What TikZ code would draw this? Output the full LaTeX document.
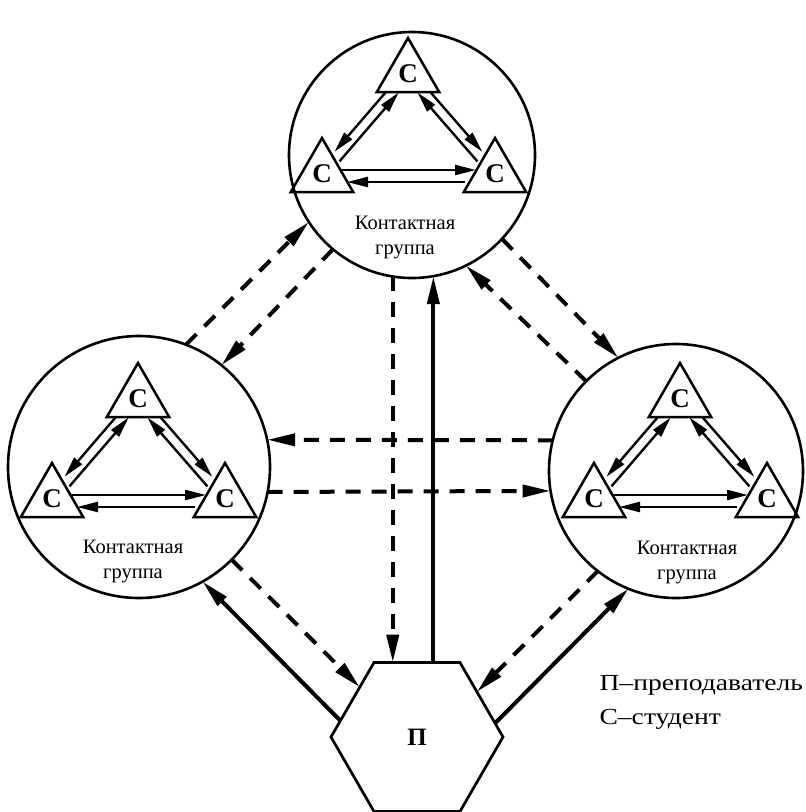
\documentclass[tikz,border=0pt]{standalone}
\usepackage{fontspec}
\setmainfont{Liberation Serif}
\newfontfamily\legfont[FakeStretch=1.2]{Liberation Serif}
\usetikzlibrary{arrows.meta,calc,shapes.geometric}
\begin{document}
\begin{tikzpicture}[x=1pt,y=-1pt,
 grp/.style={circle, draw, line width=2.6pt, minimum size=#1, inner sep=0pt, outer sep=0pt},
 stud/.style={regular polygon, regular polygon sides=3, draw, line width=2.5pt, minimum size=72pt, inner sep=0pt, outer sep=0pt, font=\fontsize{27}{27}\selectfont\bfseries},
 teach/.style={regular polygon, regular polygon sides=6, draw, line width=2.7pt, minimum size=172pt, inner sep=0pt, outer sep=0pt, font=\fontsize{25}{25}\selectfont\bfseries},
 sarr/.style={line width=2.4pt, -{Triangle[length=21pt,width=10pt]}},
 link/.style={line width=4pt, -{Triangle[length=28pt,width=12pt]}},
 dlink/.style={link, dash pattern=on 15pt off 11pt},
 lbl/.style={align=center, font=\fontsize{20.5}{25}\selectfont},
]
\useasboundingbox (0,0) rectangle (806,812);

% contact groups
\node[grp=246pt] (T) at (412,155) {};
\node[grp=262pt] (L) at (139,467) {};
\node[grp=254pt] (R) at (676,471) {};
% teacher
\node[teach] (H) at (417,737) {\raisebox{-7pt}{П}};

% students and their links
\foreach \g/\x/\y in {A/408/74, B/138/399, C/680/399}{
  \node[stud] (\g1) at (\x,\y) {С};
  \node[stud] (\g2) at ({\x-86},{\y+100}) {С};
  \node[stud] (\g3) at ({\x+87},{\y+100}) {С};
  \draw[sarr] ($(\g1)!29pt!(\g2)!5pt!-90:(\g2)$) -- ($(\g2)!25pt!(\g1)!5pt!90:(\g1)$);
  \draw[sarr] ($(\g2)!21pt!(\g1)!5pt!-90:(\g1)$) -- ($(\g1)!20pt!(\g2)!5pt!90:(\g2)$);
  \draw[sarr] ($(\g1)!29pt!(\g3)!5pt!90:(\g3)$) -- ($(\g3)!25pt!(\g1)!5pt!-90:(\g1)$);
  \draw[sarr] ($(\g3)!21pt!(\g1)!5pt!90:(\g1)$) -- ($(\g1)!20pt!(\g3)!5pt!-90:(\g3)$);
  \draw[sarr] ($(\g2)!19pt!(\g3)!4pt!90:(\g3)$) -- ($(\g3)!19pt!(\g2)!4pt!-90:(\g2)$);
  \draw[sarr] ($(\g3)!30pt!(\g2)!8pt!90:(\g2)$) -- ($(\g2)!25pt!(\g3)!8pt!-90:(\g3)$);
}

% group captions
\node[lbl] (capT) at (405,237) {Контактная\\группа};
\node[lbl] (capL) at (133,561) {Контактная\\группа};
\node[lbl] (capR) at (687,562) {Контактная\\группа};

% legend
\node[anchor=west, align=left, font=\legfont\fontsize{23}{34}\selectfont] (leg) at (596,702) {П–преподаватель\\С–студент};

% links between groups
\draw[dlink] (L.69) -- (T.213);
\draw[dlink] (T.230) -- (L.51);
\draw[dlink] (R.135) -- (T.296);
\draw[dlink] (T.317) -- (R.117);
\draw[dlink] (R.166) -- (L.12);
\draw[dlink] (L.349) -- (R.189);

% links with the teacher
\draw[dlink] (T.261) -- (T.261 |- H.north);
\draw[link] (T.280 |- H.north) -- (T.280);
\draw[dlink] (L.315) -- (H.139);
\draw[link] (H.168) -- (L.299);
\draw[dlink] (R.232) -- (H.37);
\draw[link] (H.10) -- (R.248);
\end{tikzpicture}
\end{document}
